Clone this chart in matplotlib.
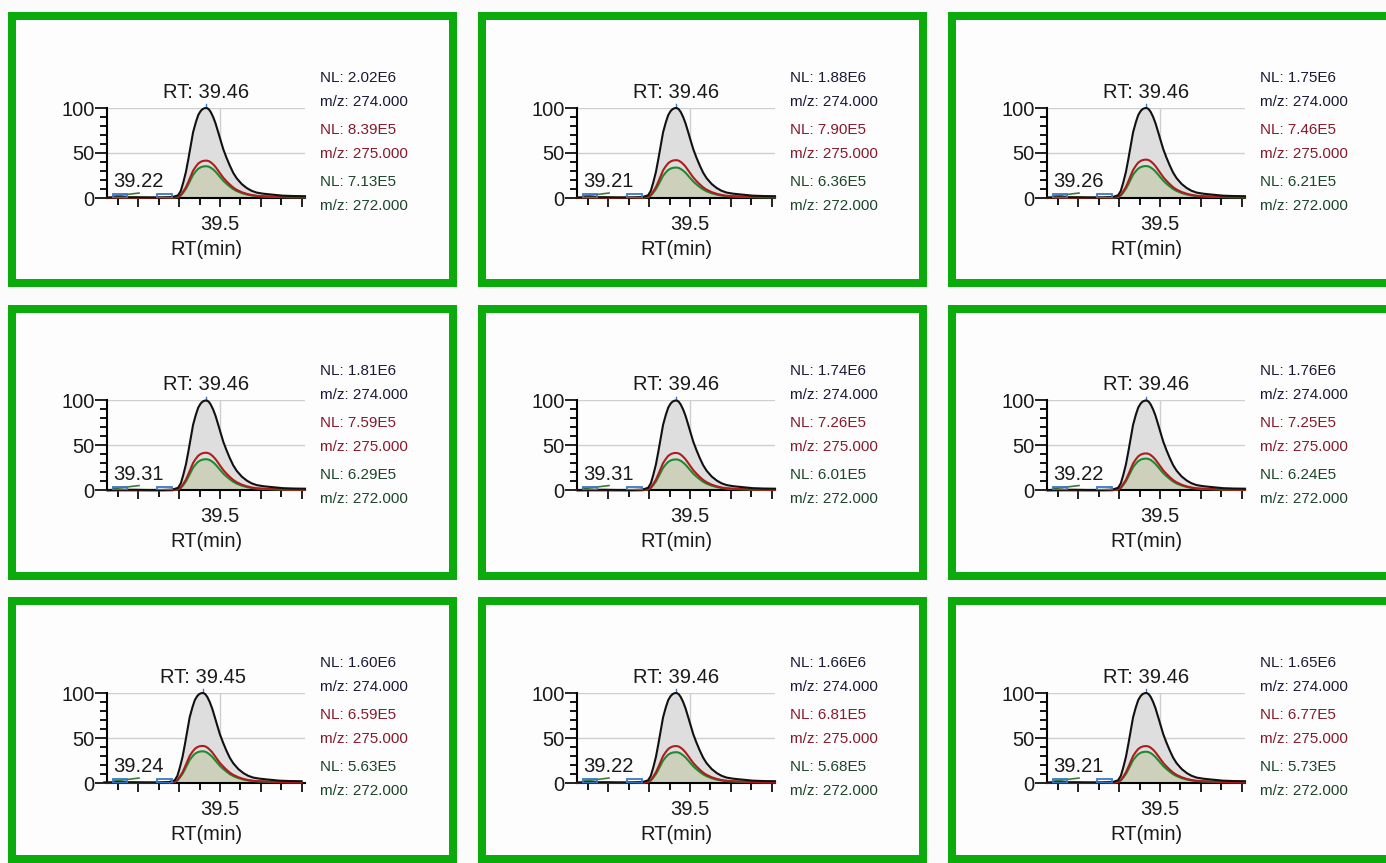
import numpy as np
import matplotlib
matplotlib.use("Agg")
import matplotlib.pyplot as plt
from matplotlib.patches import Rectangle
from matplotlib.ticker import FixedLocator, FixedFormatter

plt.rcParams['font.family'] = ['Liberation Sans', 'DejaVu Sans']

# Valores de cada cromatograma (fila por fila)
rt_pico = [39.46, 39.46, 39.46, 39.46, 39.46, 39.46, 39.45, 39.46, 39.46]
rt_menor = [39.22, 39.21, 39.26, 39.31, 39.31, 39.22, 39.24, 39.22, 39.21]
nl_274 = [2.02e6, 1.88e6, 1.75e6, 1.81e6, 1.74e6, 1.76e6, 1.60e6, 1.66e6, 1.65e6]
nl_275 = [8.39e5, 7.90e5, 7.46e5, 7.59e5, 7.26e5, 7.25e5, 6.59e5, 6.81e5, 6.77e5]
nl_272 = [7.13e5, 6.36e5, 6.21e5, 6.29e5, 6.01e5, 6.24e5, 5.63e5, 5.68e5, 5.73e5]
masas = ['274.000', '275.000', '272.000']

rt_perfil = [39.17, 39.21, 39.25, 39.29, 39.33, 39.36, 39.377, 39.385, 39.392, 39.400,
             39.407, 39.414, 39.421, 39.429, 39.436, 39.443, 39.449, 39.455, 39.461,
             39.467, 39.473, 39.480, 39.487, 39.495, 39.502, 39.510, 39.519, 39.529,
             39.539, 39.549, 39.564, 39.579, 39.593, 39.608, 39.627, 39.647, 39.685,
             39.715, 39.75]
int_perfil = [0.5, 0.8, 0.8, 0.6, 0.6, 1.0, 3, 8, 17, 29,
              43, 58, 73, 84, 92, 96.5, 98.8, 99.8, 100,
              98.7, 95.5, 90, 83, 73, 64, 54, 45, 36,
              28, 22, 15.5, 11, 8, 6, 4.8, 4, 2.6,
              2.2, 2]

# Marcas de integracion del pico menor
cajas_rt = [(39.185, 39.228), (39.315, 39.358)]
linea_menor_rt = [39.185, 39.262]
linea_menor_int = [2.0, 5.5]

W, H = 1386, 863
fig = plt.figure(figsize=(W / 100, H / 100), dpi=100)
fig.patch.set_facecolor('#fbfbfb')

verde = '#0aab0a'
colores_nl = ['#1a1a38', '#861a2c', '#1b4629']


def ejes_px(x0, y0, w, h):
    return fig.add_axes([x0 / W, 1 - (y0 + h) / H, w / W, h / H])


fondo = fig.add_axes([0, 0, 1, 1], zorder=-5)
fondo.set_xlim(0, W)
fondo.set_ylim(H, 0)
fondo.axis('off')

for i in range(9):
    fila, col = divmod(i, 3)
    dx = 470 * col
    dy = 292.5 * fila

    # recuadro verde
    alto = 275 if fila < 2 else 266
    ancho = 449 if col < 2 else 460
    fondo.add_patch(Rectangle((8 + dx + 4, 12 + dy + 4), ancho - 8, alto - 8,
                              facecolor='#fdfdfd', edgecolor=verde,
                              linewidth=8 * 0.72))

    ax = ejes_px(107 + dx, 108 + dy, 198, 90)
    ax.set_facecolor('none')
    desp = rt_pico[i] - 39.46
    rt = np.array(rt_perfil) + desp
    y274 = np.array(int_perfil)
    y275 = y274 * nl_275[i] / nl_274[i]
    y272 = y274 * nl_272[i] / nl_274[i]

    ax.fill_between(rt, 0, y274, color='#dedede', lw=0, zorder=1)
    ax.fill_between(rt, 0, y272, color='#cdd0bb', lw=0, zorder=1.5)
    ax.plot(rt, y272, color='#1e8a2e', lw=1.5, zorder=3, clip_on=False)
    ax.plot(rt, y275, color='#b01c1c', lw=1.5, zorder=3.2, clip_on=False)
    ax.plot(rt, y274, color='#111111', lw=1.5, zorder=3.4, clip_on=False)
    ax.plot(linea_menor_rt, linea_menor_int, color='#3c7a3c', lw=1.2, zorder=3)

    for a, b in cajas_rt:
        ax.add_patch(Rectangle((a, 0.3), b - a, 4, facecolor='none',
                               edgecolor='#3b78c9', lw=1.3, zorder=4))

    ax.set_xlim(39.168, 39.75)
    ax.set_ylim(0, 100)
    ax.axhline(50, color='#cfcfcf', lw=1, zorder=0.5)
    ax.axhline(100, color='#cfcfcf', lw=1, zorder=0.5)
    ax.axvline(39.5, color='#cfcfcf', lw=1, zorder=0.5)

    for s in ['top', 'right']:
        ax.spines[s].set_visible(False)
    ax.spines['left'].set_linewidth(1.5)
    ax.spines['bottom'].set_linewidth(1.5)

    ax.xaxis.set_major_locator(FixedLocator(39.5 + 0.12 * np.arange(-2, 3)))
    ax.xaxis.set_major_formatter(FixedFormatter(['', '', '39.5', '', '']))
    ax.xaxis.set_minor_locator(FixedLocator(39.44 + 0.12 * np.arange(-2, 3)))
    ax.yaxis.set_major_locator(FixedLocator([0, 50, 100]))
    ax.yaxis.set_minor_locator(FixedLocator(np.arange(10, 100, 10)))
    ax.tick_params(axis='both', which='major', direction='out', color='#111111',
                   labelsize=14.5, labelcolor='#1a1a1a')
    ax.tick_params(axis='x', which='major', length=6.5, width=1.3, pad=5.5)
    ax.tick_params(axis='x', which='minor', length=5, width=1.3)
    ax.tick_params(axis='y', which='major', length=9, width=1.3, pad=0)
    ax.tick_params(axis='y', which='minor', length=5, width=1.3)
    ax.set_xlabel('RT(min)', fontsize=14.5, color='#1a1a1a', labelpad=4.5)

    ax.annotate(f'RT: {rt_pico[i]:.2f}', xy=(rt_pico[i], 100), xytext=(0, 11.5),
                textcoords='offset points', ha='center', va='center',
                fontsize=14.5, color='#1a1a1a')
    ax.plot([rt_pico[i], rt_pico[i]], [101, 104], color='#3b78c9', lw=1,
            clip_on=False)
    ax.text(39.259, 18, f'{rt_menor[i]:.2f}', ha='center', va='center',
            fontsize=14.5, color='#1a1a1a')

    # niveles de normalizacion y masas
    nls = [nl_274[i], nl_275[i], nl_272[i]]
    for k in range(3):
        base = 78 + 52 * k
        mant, exp = f'{nls[k]:.2E}'.split('E')
        fondo.text(320 + dx, base + dy, f'NL: {mant}E{int(exp)}',
                   fontsize=11, color=colores_nl[k], va='center', ha='left')
        fondo.text(320 + dx, base + 24 + dy, f'm/z: {masas[k]}',
                   fontsize=11, color=colores_nl[k], va='center', ha='left')

fig.savefig('out.png', dpi=100, facecolor=fig.get_facecolor())
